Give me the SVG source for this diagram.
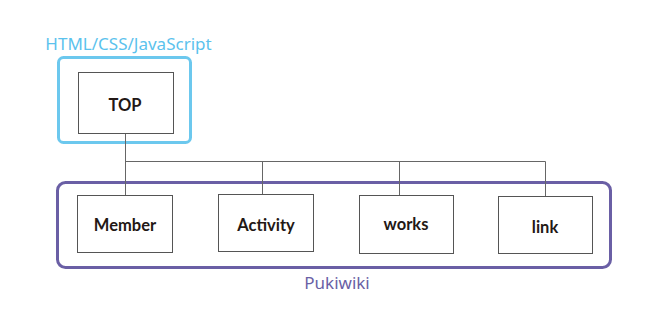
<svg xmlns="http://www.w3.org/2000/svg" width="669" height="324" viewBox="0 0 669 324">
<style>
.box{fill:#fff;stroke:#555;stroke-width:1}
.lbl{font-family:Lato,"Noto Sans",sans-serif;font-weight:bold;font-size:16.5px;fill:#231815;text-anchor:middle}
.grp{font-family:"Noto Sans",Lato,sans-serif;font-size:17px}
.con{fill:none;stroke:#666;stroke-width:1}
</style>
<rect width="669" height="324" fill="#fff"/>
<g id="html-group">
<rect x="58.5" y="57.5" width="132" height="85" rx="5" fill="none" stroke="#6cc8ee" stroke-width="3"/>
<text x="128.5" y="50" class="grp" fill="#5bc2ed" text-anchor="middle">HTML/CSS/JavaScript</text>
</g>
<g id="pukiwiki-group">
<rect x="57.5" y="182.5" width="553" height="85" rx="8" fill="none" stroke="#6a5fa5" stroke-width="3"/>
<text x="337" y="289" class="grp" fill="#6a5fa5" text-anchor="middle">Pukiwiki</text>
</g>
<g id="connectors">
<path class="con" d="M125.5 133 V195 M125.5 161.5 H545.5 V196 M262.5 161.5 V194 M399.5 161.5 V195"/>
</g>
<g id="top">
<rect class="box" x="78.5" y="72.5" width="95" height="61"/>
<text class="lbl" x="125" y="111">TOP</text>
</g>
<g id="member">
<rect class="box" x="77.5" y="195.5" width="95" height="57"/>
<text class="lbl" x="125" y="231">Member</text>
</g>
<g id="activity">
<rect class="box" x="218.5" y="194.5" width="95" height="57"/>
<text class="lbl" x="266" y="231">Activity</text>
</g>
<g id="works">
<rect class="box" x="359.5" y="195.5" width="94" height="58"/>
<text class="lbl" x="406" y="230">works</text>
</g>
<g id="link">
<rect class="box" x="498.5" y="196.5" width="94" height="57"/>
<text class="lbl" x="545" y="233">link</text>
</g>
</svg>
